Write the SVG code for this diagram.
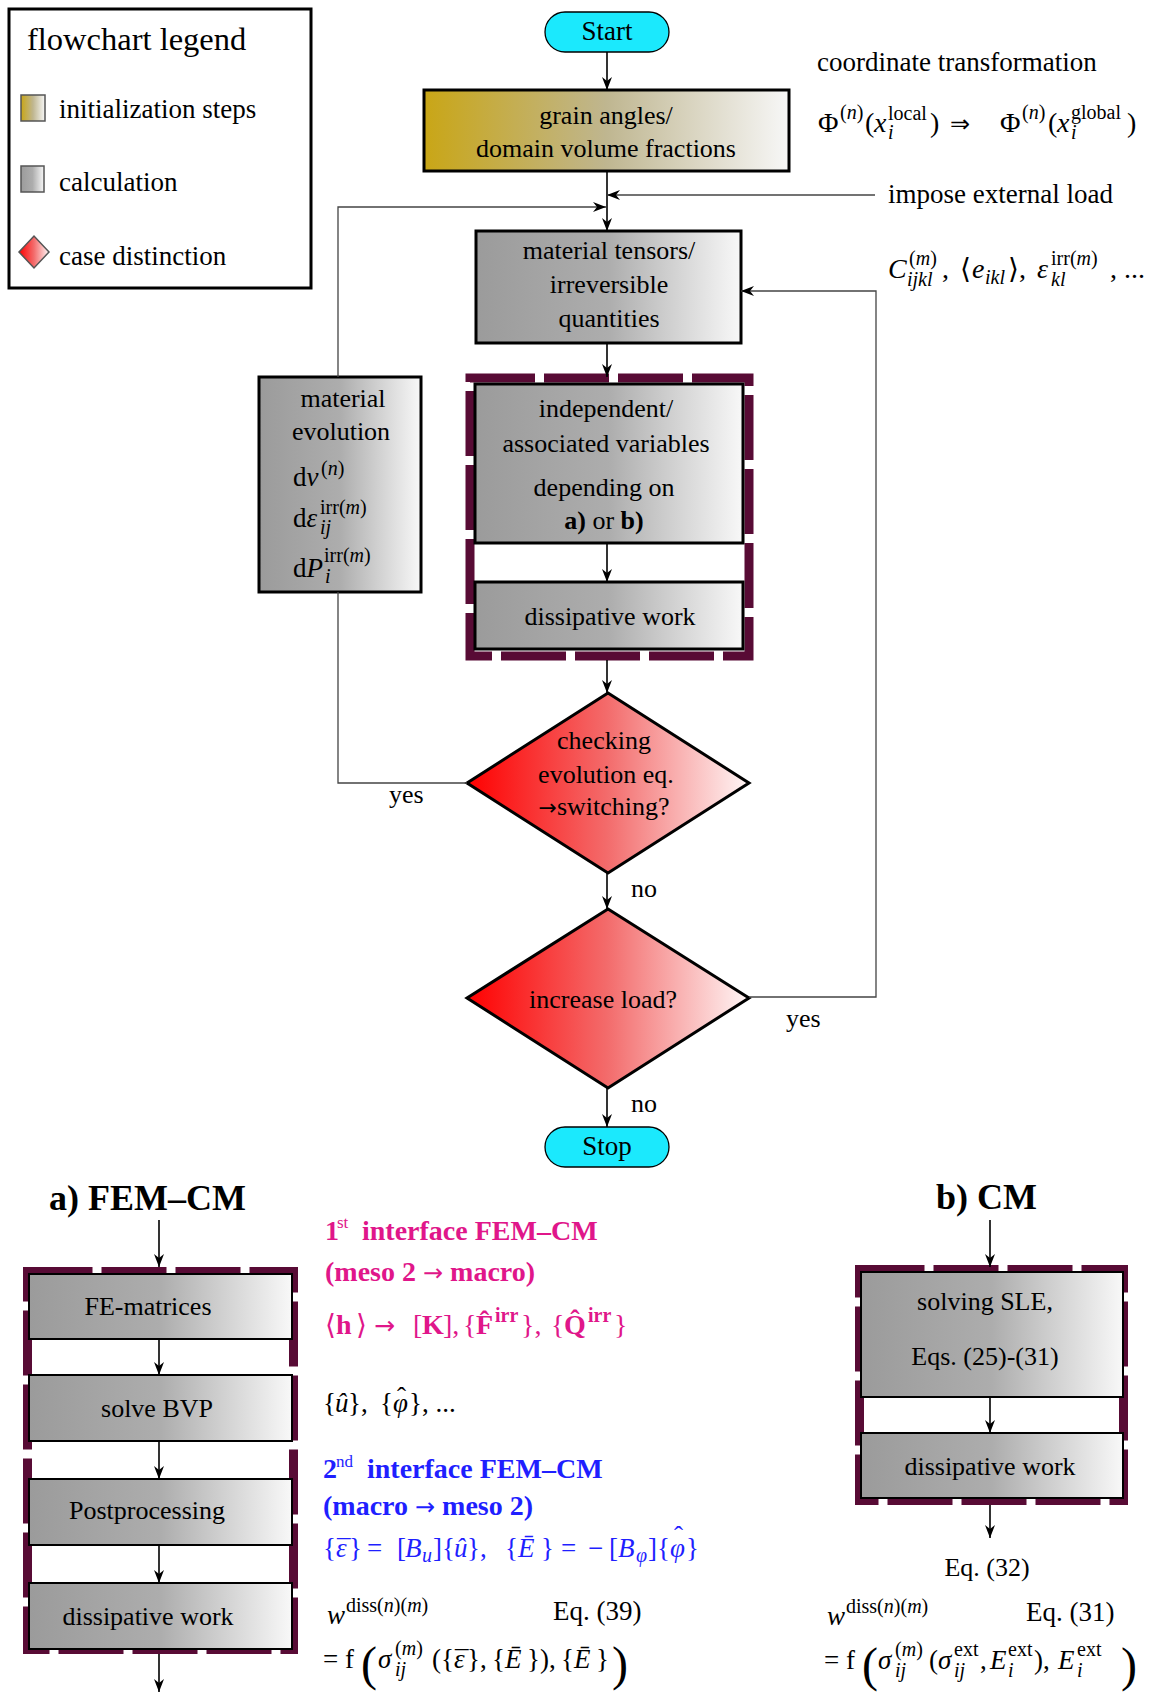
<svg xmlns="http://www.w3.org/2000/svg" width="1150" height="1693" viewBox="0 0 1150 1693">
<defs>
  <linearGradient id="gY" x1="0" y1="0" x2="1" y2="0">
    <stop offset="0" stop-color="#c9a616"/>
    <stop offset="0.5" stop-color="#bfb690"/>
    <stop offset="1" stop-color="#f7f7f7"/>
  </linearGradient>
  <linearGradient id="gG" x1="0" y1="0" x2="1" y2="0">
    <stop offset="0" stop-color="#9b9b9b"/>
    <stop offset="0.5" stop-color="#adadad"/>
    <stop offset="1" stop-color="#f8f8f8"/>
  </linearGradient>
  <linearGradient id="gR" x1="0" y1="0" x2="1" y2="0">
    <stop offset="0" stop-color="#ff0000"/>
    <stop offset="0.5" stop-color="#f36c6c"/>
    <stop offset="1" stop-color="#fff6f6"/>
  </linearGradient>
  <marker id="ah" viewBox="0 0 13 10" refX="13" refY="5" markerWidth="13" markerHeight="10" orient="auto" markerUnits="userSpaceOnUse">
    <path d="M0,0 L13,5 L0,10 L4,5 Z" fill="#000"/>
  </marker>
</defs>
<style>
  .t{font-family:"Liberation Serif","DejaVu Serif",serif;font-size:26px;fill:#000}
  .mt{font-size:28px}
  .c{text-anchor:middle}
  .i{font-style:italic}
  .sc{font-size:20px}
  .bf{font-weight:bold}
  .ar{font-family:"DejaVu Sans",sans-serif;font-weight:normal}
  .mg{fill:#e0168a}
  .bl{fill:#1f1fff}
  .frame{fill:none;stroke:#580b35;stroke-width:9;stroke-dasharray:65 9}
  .bx{stroke:#000;stroke-width:3}
  .bx2{stroke:#000;stroke-width:2}
  .ln{fill:none;stroke:#000;stroke-width:1.6}
  .lp{fill:none;stroke:#444;stroke-width:1.3}
</style>

<g id="legend">
  <rect x="9" y="9" width="302" height="279" fill="#fff" stroke="#000" stroke-width="3"/>
  <text class="t" x="27" y="50" style="font-size:32.5px">flowchart legend</text>
  <rect x="21" y="95" width="24" height="26" fill="url(#gY)" stroke="#555" stroke-width="1.5"/>
  <text class="t" x="59" y="118" style="font-size:27px">initialization steps</text>
  <rect x="21" y="166" width="23" height="26" fill="url(#gG)" stroke="#555" stroke-width="1.5"/>
  <text class="t" x="59" y="191" style="font-size:27px">calculation</text>
  <path d="M19,252 L34,236 L49,252 L34,268 Z" fill="url(#gR)" stroke="#555" stroke-width="1.5"/>
  <text class="t" x="59" y="265" style="font-size:27px">case distinction</text>
</g>

<g id="annotations">
  <text class="t" x="817" y="71" style="font-size:27px">coordinate transformation</text>
  <text class="t mt">
    <tspan x="818" y="132">Φ</tspan>
    <tspan class="sc" x="840" y="119">(<tspan class="i">n</tspan>)</tspan>
    <tspan x="865" y="132">(</tspan>
    <tspan class="i" x="874" y="132">x</tspan>
    <tspan class="sc" x="888" y="120">local</tspan>
    <tspan class="sc i" x="888" y="139">i</tspan>
    <tspan x="930" y="132">)</tspan>
    <tspan class="ar" x="950" y="132" style="font-size:24px">⇒</tspan>
    <tspan x="1000" y="132">Φ</tspan>
    <tspan class="sc" x="1022" y="119">(<tspan class="i">n</tspan>)</tspan>
    <tspan x="1048" y="132">(</tspan>
    <tspan class="i" x="1057" y="132">x</tspan>
    <tspan class="sc" x="1071" y="119">global</tspan>
    <tspan class="sc i" x="1071" y="139">i</tspan>
    <tspan x="1127" y="132">)</tspan>
  </text>
  <text class="t" x="888" y="203" style="font-size:27px">impose external load</text>
  <text class="t mt">
    <tspan class="i" x="888" y="278">C</tspan>
    <tspan class="sc" x="909" y="265">(<tspan class="i">m</tspan>)</tspan>
    <tspan class="sc i" x="907" y="286">ijkl</tspan>
    <tspan x="942" y="278">,</tspan>
    <tspan x="960" y="278">⟨</tspan>
    <tspan class="i" x="972" y="278">e</tspan>
    <tspan class="sc i" x="985" y="284">ikl</tspan>
    <tspan x="1008" y="278">⟩,</tspan>
    <tspan class="i" x="1037" y="278">ε</tspan>
    <tspan class="sc" x="1051" y="265">irr(<tspan class="i">m</tspan>)</tspan>
    <tspan class="sc i" x="1051" y="286">kl</tspan>
    <tspan x="1110" y="278">, ...</tspan>
  </text>
</g>

<g id="start">
  <rect x="545" y="12" width="124" height="40" rx="20" fill="#1be9fd" stroke="#000" stroke-width="1.3"/>
  <text class="t c" x="607" y="40" style="font-size:27px">Start</text>
</g>

<g id="grain">
  <rect class="bx" x="424" y="90" width="365" height="81" fill="url(#gY)"/>
  <text class="t c" x="606" y="124">grain angles/</text>
  <text class="t c" x="606" y="157">domain volume fractions</text>
</g>

<g id="tensors">
  <rect class="bx" x="476" y="231" width="265" height="112" fill="url(#gG)"/>
  <text class="t c" x="609" y="259">material tensors/</text>
  <text class="t c" x="609" y="293">irreversible</text>
  <text class="t c" x="609" y="327">quantities</text>
</g>

<g id="evolution">
  <rect class="bx" x="259" y="377" width="162" height="215" fill="url(#gG)"/>
  <text class="t c" x="343" y="407">material</text>
  <text class="t c" x="341" y="440">evolution</text>
  <text class="t" style="font-size:27px">
    <tspan x="293" y="486">d<tspan class="i">ν</tspan></tspan>
    <tspan class="sc" x="321" y="475">(<tspan class="i">n</tspan>)</tspan>
    <tspan x="293" y="527">d<tspan class="i">ε</tspan></tspan>
    <tspan class="sc" x="320" y="514">irr(<tspan class="i">m</tspan>)</tspan>
    <tspan class="sc i" x="320" y="534">ij</tspan>
    <tspan x="293" y="577">d<tspan class="i">P</tspan></tspan>
    <tspan class="sc" x="324" y="562">irr(<tspan class="i">m</tspan>)</tspan>
    <tspan class="sc i" x="325" y="583">i</tspan>
  </text>
</g>

<g id="group-main">
  <rect class="frame" x="470" y="378" width="279" height="278"/>
</g>

<g id="independent">
  <rect class="bx" x="475" y="384" width="268" height="159" fill="url(#gG)"/>
  <text class="t c" x="606" y="417">independent/</text>
  <text class="t c" x="606" y="452">associated variables</text>
  <text class="t c" x="604" y="496">depending on</text>
  <text class="t c" x="604" y="529"><tspan class="bf">a)</tspan> or <tspan class="bf">b)</tspan></text>
</g>

<g id="dissipative-main">
  <rect class="bx" x="475" y="582" width="268" height="67" fill="url(#gG)"/>
  <text class="t c" x="610" y="625">dissipative work</text>
</g>

<g id="check">
  <path class="bx" d="M467,783 L608,693 L749,783 L608,873 Z" fill="url(#gR)"/>
  <text class="t c" x="604" y="749">checking</text>
  <text class="t c" x="606" y="783">evolution eq.</text>
  <text class="t c" x="604" y="815"><tspan class="ar" style="font-size:22px">→</tspan>switching?</text>
</g>

<g id="increase">
  <path class="bx" d="M467,998 L608,909 L749,998 L608,1088 Z" fill="url(#gR)"/>
  <text class="t c" x="603" y="1008">increase load?</text>
</g>

<g id="stop">
  <rect x="545" y="1127" width="124" height="40" rx="20" fill="#1be9fd" stroke="#000" stroke-width="1.3"/>
  <text class="t c" x="607" y="1155" style="font-size:27px">Stop</text>
</g>

<g id="fem-cm">
  <text class="t bf" x="49" y="1210" style="font-size:36px">a) FEM–CM</text>
  <rect class="frame" x="27.5" y="1271.5" width="266" height="378"/>
  <g id="fe-matrices">
    <rect class="bx2" x="29" y="1274" width="263" height="65" fill="url(#gG)"/>
    <text class="t c" x="148" y="1315">FE-matrices</text>
  </g>
  <g id="solve-bvp">
    <rect class="bx2" x="29" y="1375" width="263" height="66" fill="url(#gG)"/>
    <text class="t c" x="157" y="1417">solve BVP</text>
  </g>
  <g id="postprocessing">
    <rect class="bx2" x="29" y="1479" width="263" height="66" fill="url(#gG)"/>
    <text class="t c" x="147" y="1519">Postprocessing</text>
  </g>
  <g id="dissipative-a">
    <rect class="bx2" x="29" y="1583" width="263" height="66" fill="url(#gG)"/>
    <text class="t c" x="148" y="1625">dissipative work</text>
  </g>
</g>

<g id="interface-texts">
  <text class="t bf mg" style="font-size:28px">
    <tspan x="325" y="1240">1</tspan>
    <tspan x="337" y="1228" style="font-size:17px;font-weight:normal">st</tspan>
    <tspan x="362" y="1240">interface FEM–CM</tspan>
  </text>
  <text class="t bf mg" x="325" y="1281" style="font-size:28px">(meso 2 <tspan class="ar" style="font-size:24px">→</tspan> macro)</text>
  <text class="t mt mg">
    <tspan x="325" y="1334">⟨</tspan>
    <tspan class="bf" x="336" y="1334">h</tspan>
    <tspan x="356" y="1334">⟩</tspan>
    <tspan class="ar" x="374" y="1334" style="font-size:25px">→</tspan>
    <tspan x="413" y="1334">[</tspan>
    <tspan class="bf" x="422" y="1334">K</tspan>
    <tspan x="443" y="1334">],</tspan>
    <tspan x="463" y="1334">{</tspan>
    <tspan class="bf" x="476" y="1334">F̂</tspan>
    <tspan class="sc bf" x="495" y="1322">irr</tspan>
    <tspan x="521" y="1334">},</tspan>
    <tspan x="551" y="1334">{</tspan>
    <tspan class="bf" x="564" y="1334">Q̂</tspan>
    <tspan class="sc bf" x="588" y="1322">irr</tspan>
    <tspan x="614" y="1334">}</tspan>
  </text>
  <text class="t" style="font-size:27px">
    <tspan x="323" y="1412">{</tspan>
    <tspan class="i" x="335" y="1412">û</tspan>
    <tspan x="348" y="1412">},</tspan>
    <tspan x="380" y="1412">{</tspan>
    <tspan class="i" x="393" y="1412">φ</tspan>
    <tspan x="397" y="1406">ˆ</tspan>
    <tspan x="409" y="1412">}, ...</tspan>
  </text>
  <text class="t bf bl" style="font-size:28px">
    <tspan x="323" y="1478">2</tspan>
    <tspan x="336" y="1467" style="font-size:17px;font-weight:normal">nd</tspan>
    <tspan x="367" y="1478">interface FEM–CM</tspan>
  </text>
  <text class="t bf bl" x="323" y="1515" style="font-size:28px">(macro <tspan class="ar" style="font-size:24px">→</tspan> meso 2)</text>
  <text class="t bl" style="font-size:27px">
    <tspan x="323" y="1557">{</tspan>
    <tspan class="i" x="336" y="1557">ε</tspan>
    <tspan x="337" y="1559">¯</tspan>
    <tspan x="349" y="1557">}</tspan>
    <tspan x="367" y="1557">=</tspan>
    <tspan x="397" y="1557">[</tspan>
    <tspan class="i" x="405" y="1557">B</tspan>
    <tspan class="sc i" x="422" y="1562">u</tspan>
    <tspan x="433" y="1557">]</tspan>
    <tspan x="442" y="1557">{</tspan>
    <tspan class="i" x="454" y="1557">û</tspan>
    <tspan x="467" y="1557">},</tspan>
    <tspan x="505" y="1557">{</tspan>
    <tspan class="i" x="518" y="1557">Ē</tspan>
    <tspan x="541" y="1557">}</tspan>
    <tspan x="561" y="1557">=</tspan>
    <tspan x="588" y="1557">−</tspan>
    <tspan x="609" y="1557">[</tspan>
    <tspan class="i" x="618" y="1557">B</tspan>
    <tspan class="sc i" x="636" y="1562">φ</tspan>
    <tspan x="648" y="1557">]</tspan>
    <tspan x="657" y="1557">{</tspan>
    <tspan class="i" x="670" y="1557">φ</tspan>
    <tspan x="674" y="1545">ˆ</tspan>
    <tspan x="686" y="1557">}</tspan>
  </text>
  <text class="t" style="font-size:27px">
    <tspan class="i" x="327" y="1624">w</tspan>
    <tspan class="sc" x="346" y="1612">diss(<tspan class="i">n</tspan>)(<tspan class="i">m</tspan>)</tspan>
    <tspan x="553" y="1620">Eq. (39)</tspan>
  </text>
  <text class="t" style="font-size:27px">
    <tspan x="323" y="1668">= f</tspan>
    <tspan x="361" y="1680" style="font-size:48px">(</tspan>
    <tspan class="i" x="378" y="1668">σ</tspan>
    <tspan class="sc" x="395" y="1655">(<tspan class="i">m</tspan>)</tspan>
    <tspan class="sc i" x="395" y="1676">ij</tspan>
    <tspan x="432" y="1668">(</tspan>
    <tspan x="441" y="1668">{</tspan>
    <tspan class="i" x="454" y="1668">ε</tspan>
    <tspan x="455" y="1670">¯</tspan>
    <tspan x="467" y="1668">},</tspan>
    <tspan x="492" y="1668">{</tspan>
    <tspan class="i" x="505" y="1668">Ē</tspan>
    <tspan x="527" y="1668">}),</tspan>
    <tspan x="561" y="1668">{</tspan>
    <tspan class="i" x="574" y="1668">Ē</tspan>
    <tspan x="596" y="1668">}</tspan>
    <tspan x="612" y="1680" style="font-size:48px">)</tspan>
  </text>
</g>

<g id="cm">
  <text class="t bf" x="936" y="1209" style="font-size:36px">b) CM</text>
  <rect class="frame" x="859.5" y="1269.5" width="264" height="231"/>
  <g id="solving-sle">
    <rect class="bx2" x="861" y="1272" width="262" height="125" fill="url(#gG)"/>
    <text class="t c" x="985" y="1310">solving SLE,</text>
    <text class="t c" x="985" y="1365">Eqs. (25)-(31)</text>
  </g>
  <g id="dissipative-b">
    <rect class="bx2" x="861" y="1433" width="262" height="65" fill="url(#gG)"/>
    <text class="t c" x="990" y="1475">dissipative work</text>
  </g>
  <text class="t c" x="987" y="1576">Eq. (32)</text>
  <text class="t" style="font-size:27px">
    <tspan class="i" x="827" y="1625">w</tspan>
    <tspan class="sc" x="846" y="1613">diss(<tspan class="i">n</tspan>)(<tspan class="i">m</tspan>)</tspan>
    <tspan x="1026" y="1621">Eq. (31)</tspan>
  </text>
  <text class="t" style="font-size:27px">
    <tspan x="824" y="1669">= f</tspan>
    <tspan x="862" y="1681" style="font-size:48px">(</tspan>
    <tspan class="i" x="878" y="1669">σ</tspan>
    <tspan class="sc" x="895" y="1656">(<tspan class="i">m</tspan>)</tspan>
    <tspan class="sc i" x="895" y="1677">ij</tspan>
    <tspan x="929" y="1669">(</tspan>
    <tspan class="i" x="938" y="1669">σ</tspan>
    <tspan class="sc" x="954" y="1656">ext</tspan>
    <tspan class="sc i" x="954" y="1677">ij</tspan>
    <tspan x="980" y="1669">,</tspan>
    <tspan class="i" x="990" y="1669">E</tspan>
    <tspan class="sc" x="1008" y="1656">ext</tspan>
    <tspan class="sc i" x="1008" y="1677">i</tspan>
    <tspan x="1034" y="1669">),</tspan>
    <tspan class="i" x="1058" y="1669">E</tspan>
    <tspan class="sc" x="1077" y="1656">ext</tspan>
    <tspan class="sc i" x="1077" y="1677">i</tspan>
    <tspan x="1121" y="1681" style="font-size:48px">)</tspan>
  </text>
</g>

<g id="connectors">
  <line class="ln" x1="607" y1="52" x2="607" y2="90" marker-end="url(#ah)"/>
  <line class="ln" x1="607" y1="171" x2="607" y2="231" marker-end="url(#ah)"/>
  <line class="lp" x1="875" y1="195" x2="607" y2="195" marker-end="url(#ah)"/>
  <path class="lp" d="M338,377 V207 H606" marker-end="url(#ah)"/>
  <line class="ln" x1="607" y1="343" x2="607" y2="377" marker-end="url(#ah)"/>
  <line class="ln" x1="607" y1="543" x2="607" y2="582" marker-end="url(#ah)"/>
  <line class="ln" x1="607" y1="660" x2="607" y2="693" marker-end="url(#ah)"/>
  <line class="ln" x1="607" y1="873" x2="607" y2="909" marker-end="url(#ah)"/>
  <line class="ln" x1="607" y1="1088" x2="607" y2="1127" stroke-width="2.2" marker-end="url(#ah)"/>
  <path class="lp" d="M467,783 H338 V592"/>
  <path class="lp" d="M749,997 H876 V291 H741" marker-end="url(#ah)"/>
  <line class="ln" x1="159" y1="1220" x2="159" y2="1267" marker-end="url(#ah)"/>
  <line class="ln" x1="159" y1="1339" x2="159" y2="1375" marker-end="url(#ah)"/>
  <line class="ln" x1="159" y1="1441" x2="159" y2="1479" marker-end="url(#ah)"/>
  <line class="ln" x1="159" y1="1545" x2="159" y2="1583" marker-end="url(#ah)"/>
  <line class="ln" x1="159" y1="1654" x2="159" y2="1692" marker-end="url(#ah)"/>
  <line class="ln" x1="990" y1="1220" x2="990" y2="1267" marker-end="url(#ah)"/>
  <line class="ln" x1="990" y1="1397" x2="990" y2="1433" marker-end="url(#ah)"/>
  <line class="ln" x1="990" y1="1505" x2="990" y2="1538" marker-end="url(#ah)"/>
  <g id="edge-labels">
    <text class="t" x="389" y="803">yes</text>
    <text class="t" x="631" y="897">no</text>
    <text class="t" x="786" y="1027">yes</text>
    <text class="t" x="631" y="1112">no</text>
  </g>
</g>
</svg>
